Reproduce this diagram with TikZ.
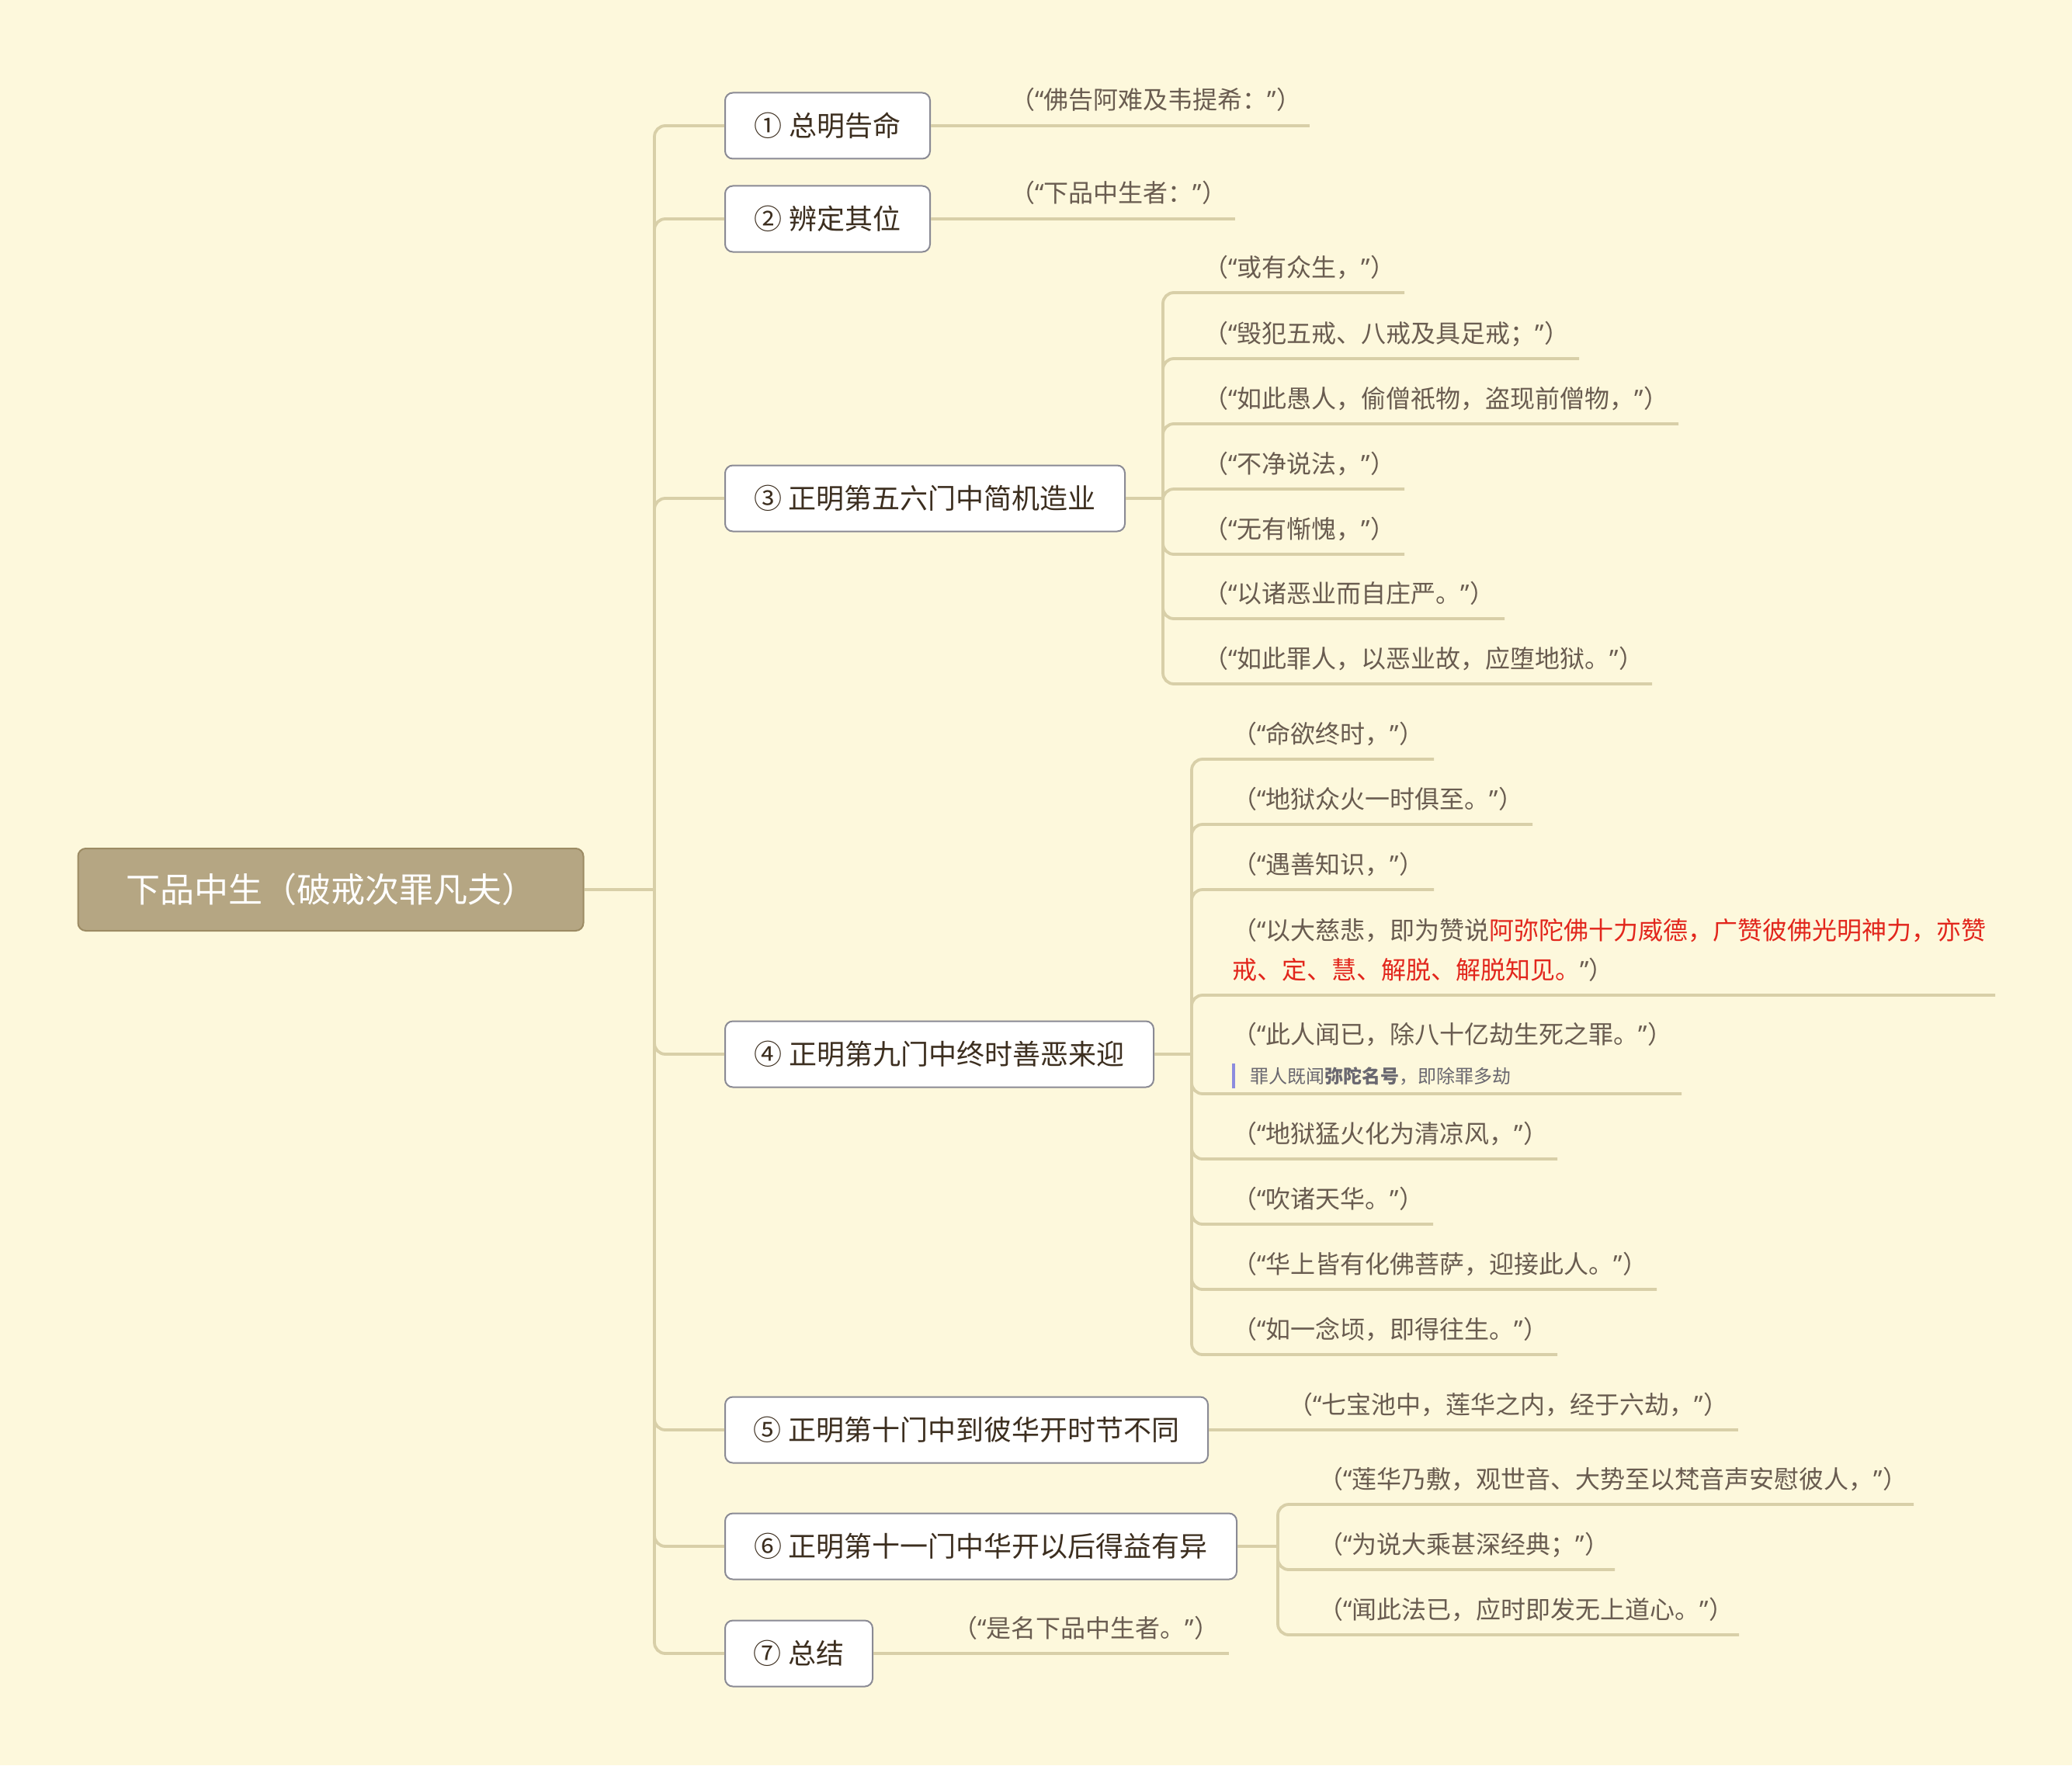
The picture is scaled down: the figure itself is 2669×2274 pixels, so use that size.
\documentclass[tikz,border=0pt]{standalone}
\usepackage{fontspec}
\setmainfont{Noto Sans CJK SC}
\newfontface\quofont{Noto Sans}
\newcommand{\oq}{{\quofont “}}
\newcommand{\cq}{{\quofont ”}}
\usetikzlibrary{calc,positioning}

\definecolor{bgcream}{HTML}{FDF8DC}
\definecolor{linetan}{HTML}{D8CFA8}
\definecolor{rootfill}{HTML}{B5A683}
\definecolor{rootedge}{HTML}{9C8B64}
\definecolor{boxedge}{HTML}{8A8A94}
\definecolor{branchtext}{HTML}{3C2E1F}
\definecolor{leaftext}{HTML}{695C50}
\definecolor{quotered}{HTML}{E2261C}
\definecolor{notetext}{HTML}{6A6870}
\definecolor{notebar}{HTML}{8C8CDE}

\tikzset{
	conn/.style={draw=linetan, line width=1.9pt, rounded corners=7pt},
	rootbox/.style={fill=rootfill, draw=rootedge, line width=1pt, rounded corners=5pt, text=white, font=\fontsize{22pt}{26pt}\selectfont, minimum width=325.5pt, minimum height=53pt, inner sep=0pt},
	branchbox/.style={fill=white, draw=boxedge, line width=1pt, rounded corners=5pt, text=branchtext, font=\fontsize{18pt}{21pt}\selectfont, minimum height=42.5pt, inner sep=0pt, anchor=west},
	leaftxt/.style={text=leaftext, font=\fontsize{16pt}{25.5pt}\selectfont, inner sep=0pt, anchor=base west},
	notetxt/.style={text=notetext, font=\fontsize{12pt}{14pt}\selectfont, inner sep=0pt, anchor=base west},
	notemark/.style={draw=notebar, line width=2pt},
}

% leaf topic: [raise]{junction}{name}{line y}{line end x}{text}
\newcommand{\leafat}[6][10.5pt]{%
	\coordinate (#3-e) at (#5,#4);
	\coordinate (#3-s) at (#2 |- #3-e);
	\node[leaftxt] (#3) at ([xshift=26pt,yshift=#1]#3-s) {#6};
	\draw[conn] (#3-e) -- (#3-s) -- (#2);
}

\begin{document}
\begin{tikzpicture}[x=0.5pt, y=-0.5pt]
			%%%%% START %%%%%
			\fill[bgcream] (0,0) rectangle (2669,2274);
			\useasboundingbox (0,0) rectangle (2669,2274);
			
			\node[rootbox] (root) at (426,1146) {下品中生（破戒次罪凡夫）};
			\coordinate (trunk) at (843,1146);
			
			\node[branchbox, minimum width=132pt] (b1) at (933,162) {① 总明告命};
			\node[branchbox, minimum width=132pt] (b2) at (933,282) {② 辨定其位};
			\node[branchbox, minimum width=257.5pt] (b3) at (933,642) {③ 正明第五六门中简机造业};
			\node[branchbox, minimum width=276pt] (b4) at (933,1358) {④ 正明第九门中终时善恶来迎};
			\node[branchbox, minimum width=311pt] (b5) at (933,1842) {⑤ 正明第十门中到彼华开时节不同};
			\node[branchbox, minimum width=329.5pt] (b6) at (933,1992) {⑥ 正明第十一门中华开以后得益有异};
			\node[branchbox, minimum width=95pt] (b7) at (933,2130) {⑦ 总结};
			
			\draw[conn] (root.east) -- (trunk);
			\foreach \b in {b1,b2,b3,b4,b5,b6,b7}
				\draw[conn] (\b.west) -- (trunk |- \b.west) -- (trunk);
			
			% single leaves
			\node[leaftxt] (l1) at ([xshift=51pt,yshift=10.5pt]b1.east) {（\oq 佛告阿难及韦提希：\cq）};
			\coordinate (l1-e) at ([xshift=244pt]b1.east);
			\draw[conn] (b1.east) -- (l1-e);
			
			\node[leaftxt] (l2) at ([xshift=51pt,yshift=10.5pt]b2.east) {（\oq 下品中生者：\cq）};
			\coordinate (l2-e) at ([xshift=196pt]b2.east);
			\draw[conn] (b2.east) -- (l2-e);
			
			\node[leaftxt] (l5) at ([xshift=51pt,yshift=10.5pt]b5.east) {（\oq 七宝池中，莲华之内，经于六劫，\cq）};
			\coordinate (l5-e) at ([xshift=341pt]b5.east);
			\draw[conn] (b5.east) -- (l5-e);
			
			\node[leaftxt] (l7) at ([xshift=51pt,yshift=10.5pt]b7.east) {（\oq 是名下品中生者。\cq）};
			\coordinate (l7-e) at ([xshift=229pt]b7.east);
			\draw[conn] (b7.east) -- (l7-e);
			
			% branch 3
			\coordinate (j3) at ([xshift=24pt]b3.east);
			\draw[conn] (b3.east) -- (j3);
			\leafat{j3}{l31}{377}{1809}{（\oq 或有众生，\cq）}
			\leafat{j3}{l32}{462}{2034}{（\oq 毁犯五戒、八戒及具足戒；\cq）}
			\leafat{j3}{l33}{546}{2162}{（\oq 如此愚人，偷僧祇物，盗现前僧物，\cq）}
			\leafat{j3}{l34}{630}{1809}{（\oq 不净说法，\cq）}
			\leafat{j3}{l35}{714}{1809}{（\oq 无有惭愧，\cq）}
			\leafat{j3}{l36}{797}{1938}{（\oq 以诸恶业而自庄严。\cq）}
			\leafat{j3}{l37}{881}{2128}{（\oq 如此罪人，以恶业故，应堕地狱。\cq）}
			
			% branch 4
			\coordinate (j4) at ([xshift=24pt]b4.east);
			\draw[conn] (b4.east) -- (j4);
			\leafat{j4}{l41}{978}{1847}{（\oq 命欲终时，\cq）}
			\leafat{j4}{l42}{1062}{1974}{（\oq 地狱众火一时俱至。\cq）}
			\leafat{j4}{l43}{1146}{1847}{（\oq 遇善知识，\cq）}
			\leafat{j4}{l44}{1282}{2570}{\vbox{\hbox{（\oq 以大慈悲，即为赞说\textcolor{quotered}{阿弥陀佛十力威德，广赞彼佛光明神力，亦赞}}\hbox{\textcolor{quotered}{戒、定、慧、解脱、解脱知见。}\cq）}}}
			\leafat[32.5pt]{j4}{l45}{1409}{2166}{（\oq 此人闻已，除八十亿劫生死之罪。\cq）}
			\node[notetxt] (n45) at ([xshift=37.5pt,yshift=7pt]l45-s) {罪人既闻\textbf{弥陀名号}，即除罪多劫};
			\draw[notemark] ([xshift=27pt,yshift=3.5pt]l45-s) -- ++(0,16pt);
			\leafat{j4}{l46}{1493}{2006}{（\oq 地狱猛火化为清凉风，\cq）}
			\leafat{j4}{l47}{1577}{1846}{（\oq 吹诸天华。\cq）}
			\leafat{j4}{l48}{1661}{2134}{（\oq 华上皆有化佛菩萨，迎接此人。\cq）}
			\leafat{j4}{l49}{1745}{2006}{（\oq 如一念顷，即得往生。\cq）}
			
			% branch 6
			\coordinate (j6) at ([xshift=26pt]b6.east);
			\draw[conn] (b6.east) -- (j6);
			\leafat{j6}{l61}{1938}{2465}{（\oq 莲华乃敷，观世音、大势至以梵音声安慰彼人，\cq）}
			\leafat{j6}{l62}{2022}{2080}{（\oq 为说大乘甚深经典；\cq）}
			\leafat{j6}{l63}{2106}{2240}{（\oq 闻此法已，应时即发无上道心。\cq）}
			%%%%% END %%%%%
\end{tikzpicture}
\end{document}
